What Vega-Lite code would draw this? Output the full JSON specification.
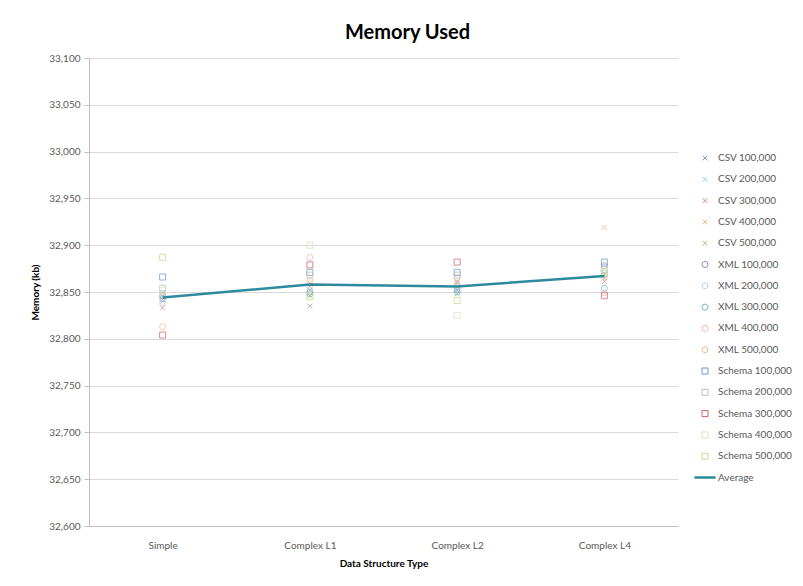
{
  "$schema": "https://vega.github.io/schema/vega-lite/v6.json",
  "width": 589,
  "height": 468,
  "autosize": "none",
  "padding": {"left": 89, "top": 58, "right": 125, "bottom": 60},
  "background": "white",
  "config": {
    "font": "Lato",
    "view": {"stroke": null},
    "axis": {"labelFont": "Lato", "titleFont": "Lato", "labelColor": "#595959", "titleColor": "#000000", "labelFontSize": 10, "titleFontSize": 10, "titleFontWeight": "bold", "domainColor": "#BFBFBF", "tickColor": "#BFBFBF", "gridColor": "#D9D9D9"}
  },
  "title": {"text": "Memory Used", "fontSize": 20, "font": "Lato", "fontWeight": "bold", "color": "#000000", "anchor": "middle", "frame": "group", "dx": 24, "offset": 10},
  "data": {"values": [
    {"type": "Simple", "series": "CSV 100,000", "memory": 32842},
    {"type": "Simple", "series": "CSV 200,000", "memory": 32840},
    {"type": "Simple", "series": "CSV 300,000", "memory": 32833},
    {"type": "Simple", "series": "CSV 400,000", "memory": 32848},
    {"type": "Simple", "series": "CSV 500,000", "memory": 32845},
    {"type": "Simple", "series": "XML 100,000", "memory": 32846},
    {"type": "Simple", "series": "XML 200,000", "memory": 32849},
    {"type": "Simple", "series": "XML 300,000", "memory": 32843},
    {"type": "Simple", "series": "XML 400,000", "memory": 32838},
    {"type": "Simple", "series": "XML 500,000", "memory": 32813},
    {"type": "Simple", "series": "Schema 100,000", "memory": 32866},
    {"type": "Simple", "series": "Schema 200,000", "memory": 32854},
    {"type": "Simple", "series": "Schema 300,000", "memory": 32804},
    {"type": "Simple", "series": "Schema 400,000", "memory": 32852},
    {"type": "Simple", "series": "Schema 500,000", "memory": 32887},
    {"type": "Complex L1", "series": "CSV 100,000", "memory": 32835},
    {"type": "Complex L1", "series": "CSV 200,000", "memory": 32852},
    {"type": "Complex L1", "series": "CSV 300,000", "memory": 32856},
    {"type": "Complex L1", "series": "CSV 400,000", "memory": 32860},
    {"type": "Complex L1", "series": "CSV 500,000", "memory": 32846},
    {"type": "Complex L1", "series": "XML 100,000", "memory": 32850},
    {"type": "Complex L1", "series": "XML 200,000", "memory": 32855},
    {"type": "Complex L1", "series": "XML 300,000", "memory": 32848},
    {"type": "Complex L1", "series": "XML 400,000", "memory": 32887},
    {"type": "Complex L1", "series": "XML 500,000", "memory": 32862},
    {"type": "Complex L1", "series": "Schema 100,000", "memory": 32871},
    {"type": "Complex L1", "series": "Schema 200,000", "memory": 32868},
    {"type": "Complex L1", "series": "Schema 300,000", "memory": 32879},
    {"type": "Complex L1", "series": "Schema 400,000", "memory": 32900},
    {"type": "Complex L1", "series": "Schema 500,000", "memory": 32845},
    {"type": "Complex L2", "series": "CSV 100,000", "memory": 32852},
    {"type": "Complex L2", "series": "CSV 200,000", "memory": 32858},
    {"type": "Complex L2", "series": "CSV 300,000", "memory": 32860},
    {"type": "Complex L2", "series": "CSV 400,000", "memory": 32862},
    {"type": "Complex L2", "series": "CSV 500,000", "memory": 32848},
    {"type": "Complex L2", "series": "XML 100,000", "memory": 32853},
    {"type": "Complex L2", "series": "XML 200,000", "memory": 32857},
    {"type": "Complex L2", "series": "XML 300,000", "memory": 32850},
    {"type": "Complex L2", "series": "XML 400,000", "memory": 32865},
    {"type": "Complex L2", "series": "XML 500,000", "memory": 32858},
    {"type": "Complex L2", "series": "Schema 100,000", "memory": 32871},
    {"type": "Complex L2", "series": "Schema 200,000", "memory": 32868},
    {"type": "Complex L2", "series": "Schema 300,000", "memory": 32882},
    {"type": "Complex L2", "series": "Schema 400,000", "memory": 32825},
    {"type": "Complex L2", "series": "Schema 500,000", "memory": 32841},
    {"type": "Complex L4", "series": "CSV 100,000", "memory": 32865},
    {"type": "Complex L4", "series": "CSV 200,000", "memory": 32870},
    {"type": "Complex L4", "series": "CSV 300,000", "memory": 32861},
    {"type": "Complex L4", "series": "CSV 400,000", "memory": 32919},
    {"type": "Complex L4", "series": "CSV 500,000", "memory": 32868},
    {"type": "Complex L4", "series": "XML 100,000", "memory": 32878},
    {"type": "Complex L4", "series": "XML 200,000", "memory": 32872},
    {"type": "Complex L4", "series": "XML 300,000", "memory": 32854},
    {"type": "Complex L4", "series": "XML 400,000", "memory": 32849},
    {"type": "Complex L4", "series": "XML 500,000", "memory": 32866},
    {"type": "Complex L4", "series": "Schema 100,000", "memory": 32882},
    {"type": "Complex L4", "series": "Schema 200,000", "memory": 32874},
    {"type": "Complex L4", "series": "Schema 300,000", "memory": 32846},
    {"type": "Complex L4", "series": "Schema 400,000", "memory": 32872},
    {"type": "Complex L4", "series": "Schema 500,000", "memory": 32870},
    {"type": "Simple", "series": "Average", "memory": 32844},
    {"type": "Complex L1", "series": "Average", "memory": 32858},
    {"type": "Complex L2", "series": "Average", "memory": 32856},
    {"type": "Complex L4", "series": "Average", "memory": 32867}
  ]},
  "encoding": {
    "x": {"field": "type", "type": "nominal", "sort": ["Simple", "Complex L1", "Complex L2", "Complex L4"],
      "scale": {"type": "point", "padding": 0.5},
      "axis": {"title": "Data Structure Type", "labelAngle": 0, "ticks": false, "labelPadding": 14, "titlePadding": 8, "domainColor": "#BFBFBF"}},
    "y": {"field": "memory", "type": "quantitative",
      "scale": {"domain": [32600, 33100], "zero": false, "nice": false},
      "axis": {"title": "Memory (kb)", "values": [32600, 32650, 32700, 32750, 32800, 32850, 32900, 32950, 33000, 33050, 33100], "format": ",.0f", "tickSize": 5, "labelPadding": 4, "titlePadding": 8, "grid": true}},
    "color": {"field": "series", "type": "nominal",
      "scale": {
        "domain": ["CSV 100,000", "CSV 200,000", "CSV 300,000", "CSV 400,000", "CSV 500,000", "XML 100,000", "XML 200,000", "XML 300,000", "XML 400,000", "XML 500,000", "Schema 100,000", "Schema 200,000", "Schema 300,000", "Schema 400,000", "Schema 500,000", "Average"],
        "range": ["#7F9CC4", "#8DD3E6", "#D9868A", "#F7B27A", "#A9BF7A", "#9A8DB5", "#BED3EC", "#6FBACB", "#EDB5B8", "#F5B98C", "#6E97D4", "#BDBDBD", "#D35F66", "#D5E4BC", "#C9D98C", "#2D8A9E"]},
      "legend": {"title": null, "orient": "none", "legendX": 611, "legendY": 95, "labelFont": "Lato", "labelFontSize": 10, "labelColor": "#595959", "rowPadding": 11.3, "symbolStrokeWidth": 1, "labelOffset": 8,
        "encode": {"symbols": {"update": {
          "size": {"signal": "datum.value === 'Average' ? 450 : 36"},
          "strokeWidth": {"signal": "datum.value === 'Average' ? 2.5 : 1"}
        }}}}
    }
  },
  "layer": [
    {
      "transform": [{"filter": "datum.series !== 'Average'"}],
      "mark": {"type": "point", "filled": false, "strokeWidth": 1, "size": 36, "opacity": 0.75},
      "encoding": {
        "shape": {"field": "series", "type": "nominal",
          "scale": {
            "domain": ["CSV 100,000", "CSV 200,000", "CSV 300,000", "CSV 400,000", "CSV 500,000", "XML 100,000", "XML 200,000", "XML 300,000", "XML 400,000", "XML 500,000", "Schema 100,000", "Schema 200,000", "Schema 300,000", "Schema 400,000", "Schema 500,000", "Average"],
            "range": ["M-0.8,-0.8L0.8,0.8M-0.8,0.8L0.8,-0.8", "M-0.8,-0.8L0.8,0.8M-0.8,0.8L0.8,-0.8", "M-0.8,-0.8L0.8,0.8M-0.8,0.8L0.8,-0.8", "M-0.8,-0.8L0.8,0.8M-0.8,0.8L0.8,-0.8", "M-0.8,-0.8L0.8,0.8M-0.8,0.8L0.8,-0.8", "circle", "circle", "circle", "circle", "circle", "square", "square", "square", "square", "square", "stroke"]},
          "legend": {"title": null, "orient": "none", "legendX": 611, "legendY": 95, "labelFont": "Lato", "labelFontSize": 10, "labelColor": "#595959", "rowPadding": 11.3, "symbolStrokeWidth": 1, "labelOffset": 8,
            "encode": {"symbols": {"update": {
              "size": {"signal": "datum.value === 'Average' ? 450 : 36"},
              "strokeWidth": {"signal": "datum.value === 'Average' ? 2.5 : 1"}
            }}}}
        }
      }
    },
    {
      "transform": [{"filter": "datum.series === 'Average'"}],
      "mark": {"type": "line", "strokeWidth": 2.5},
      "encoding": {}
    }
  ]
}
